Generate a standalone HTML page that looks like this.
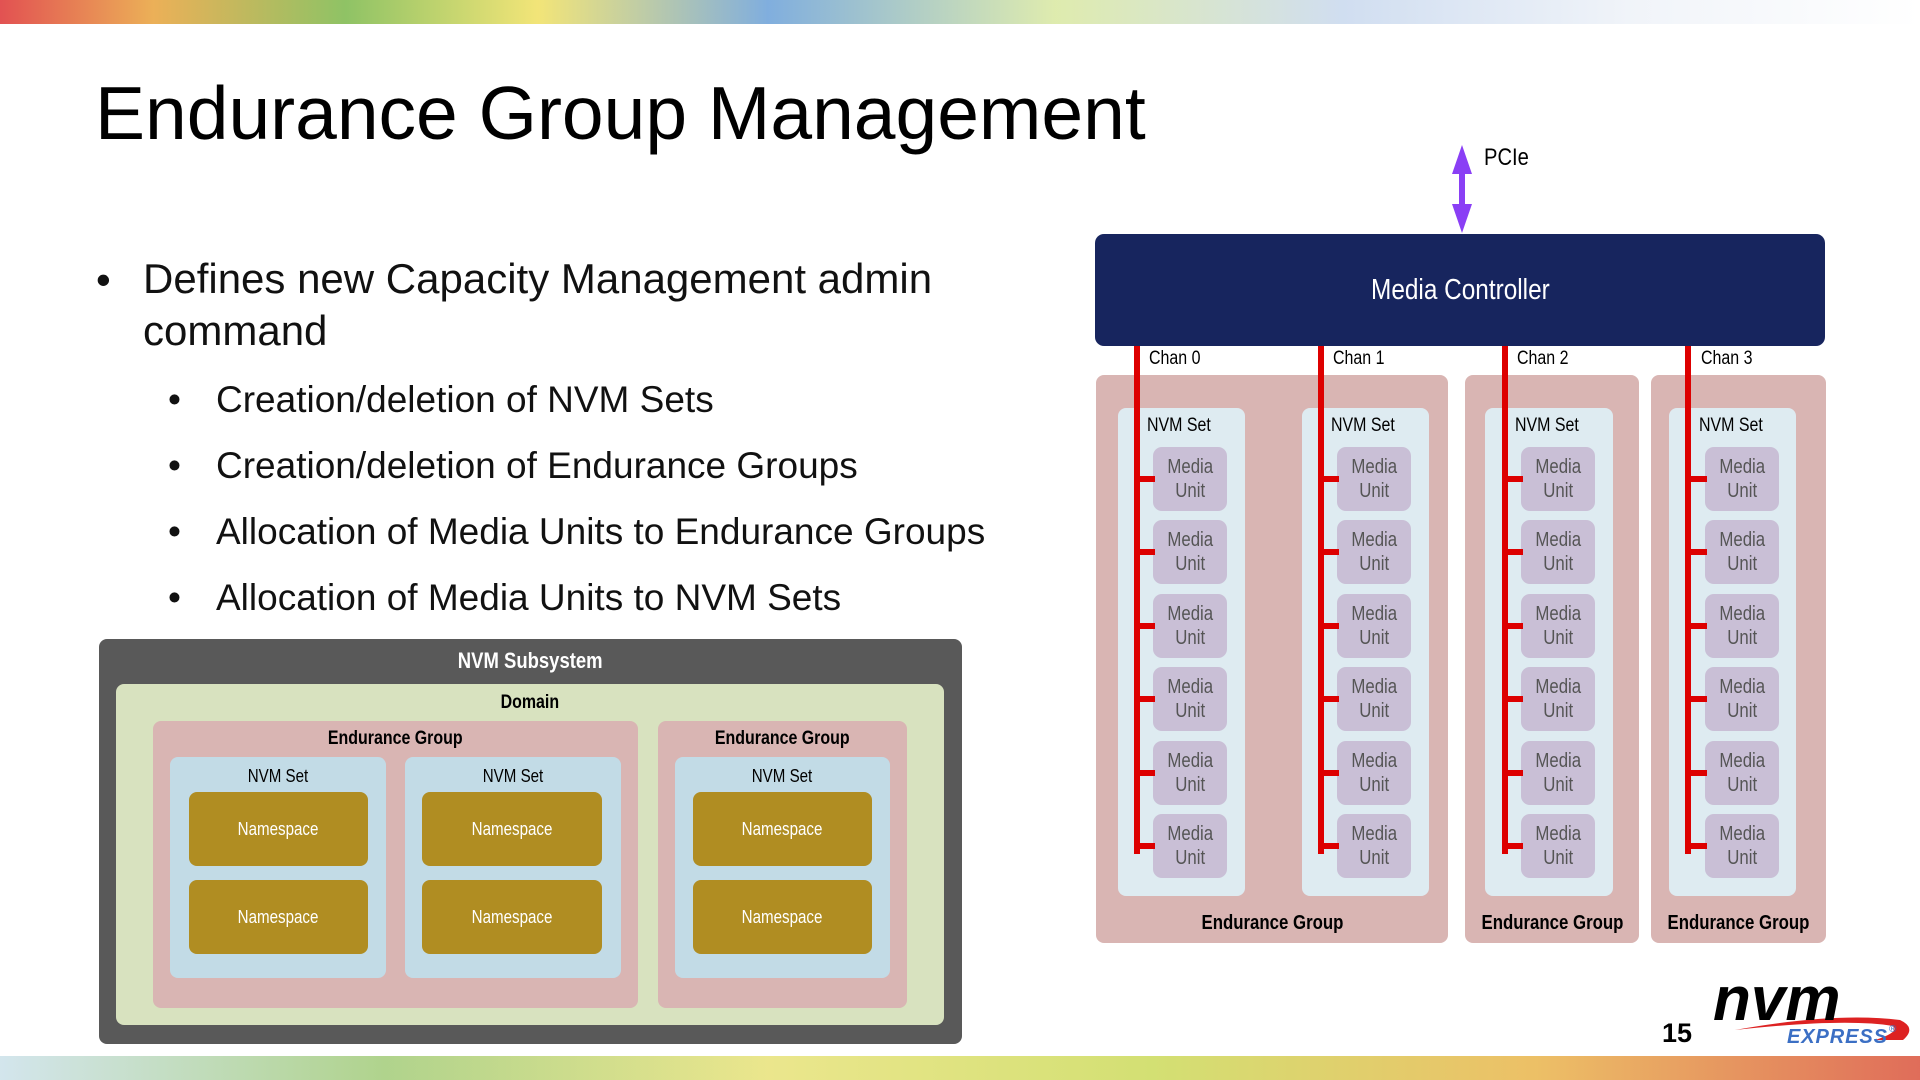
<!DOCTYPE html>
<html><head><meta charset="utf-8"><style>
*{margin:0;padding:0;box-sizing:border-box}
body{width:1920px;height:1080px;position:relative;background:#fff;overflow:hidden;font-family:"Liberation Sans",Arial,sans-serif}
.a{position:absolute}
.n span{display:inline-block;transform:scaleX(.84);white-space:nowrap}
.n.l span{transform-origin:left center}
.c{display:flex;align-items:center;justify-content:center;text-align:center}
.eg{background:#d9b5b3;border-radius:8px}
.set{background:#deebf1;border-radius:8px}
.mu{background:#c9bfd6;border-radius:9px;width:74px;height:64px;color:#555;font-size:20px;line-height:24px}
.ch{background:#dd0000;width:6px}
.br{background:#dd0000;height:6px;width:20px}
.ns{background:#b08d22;border-radius:8px;color:#fff;font-size:18px}
.lset{background:#c2dbe6;border-radius:8px}
</style></head><body>
<div class="a" style="left:0;top:0;width:1920px;height:24px;background:linear-gradient(90deg,#d33 0%,#e8a23a 8%,#7bb84a 18%,#f0e060 28%,#6aa0d8 40%,#d9e8a0 55%,#c8d8ee 70%,#eef2f8 85%,#fff 100%);opacity:.85"></div>
<div class="a" style="left:0;top:1056px;width:1920px;height:24px;background:linear-gradient(90deg,#c8dfe8 0%,#9cc870 20%,#e6e070 40%,#c8d850 60%,#e8b040 80%,#d84830 100%);opacity:.8"></div>

<div class="a" style="left:95px;top:70px;font-size:75px;color:#000">Endurance Group Management</div>
<div class="a" style="left:96px;top:254px;font-size:42px;line-height:52px;color:#111">•</div>
<div class="a" style="left:143px;top:253px;font-size:42px;line-height:52px;color:#111">Defines new Capacity Management admin<br>command</div>
<div class="a" style="left:168px;top:367px;font-size:37px;line-height:66px;color:#111">•<br>•<br>•<br>•</div>
<div class="a" style="left:216px;top:367px;font-size:37px;line-height:66px;color:#111">Creation/deletion of NVM Sets<br>Creation/deletion of Endurance Groups<br>Allocation of Media Units to Endurance Groups<br>Allocation of Media Units to NVM Sets</div>

<div class="a" style="left:99px;top:639px;width:863px;height:405px;background:#595959;border-radius:8px"></div>
<div class="a n c" style="left:99px;top:645px;width:863px;height:32px;color:#fff;font-weight:bold;font-size:22px"><span>NVM Subsystem</span></div>
<div class="a" style="left:116px;top:684px;width:828px;height:341px;background:#d8e2bf;border-radius:8px"></div>
<div class="a n c" style="left:116px;top:690px;width:828px;height:26px;font-weight:bold;font-size:19px"><span>Domain</span></div>
<div class="a eg" style="left:153px;top:721px;width:485px;height:287px"></div>
<div class="a eg" style="left:658px;top:721px;width:249px;height:287px"></div>
<div class="a n c" style="left:153px;top:726px;width:485px;height:26px;font-weight:bold;font-size:19px"><span>Endurance Group</span></div>
<div class="a n c" style="left:658px;top:726px;width:249px;height:26px;font-weight:bold;font-size:19px"><span>Endurance Group</span></div>
<div class="a lset" style="left:170px;top:757px;width:216px;height:221px"></div>
<div class="a lset" style="left:405px;top:757px;width:216px;height:221px"></div>
<div class="a lset" style="left:675px;top:757px;width:215px;height:221px"></div>
<div class="a n c" style="left:170px;top:763px;width:216px;height:26px;font-size:18px"><span>NVM Set</span></div>
<div class="a n c" style="left:405px;top:763px;width:216px;height:26px;font-size:18px"><span>NVM Set</span></div>
<div class="a n c" style="left:675px;top:763px;width:215px;height:26px;font-size:18px"><span>NVM Set</span></div>
<div class="a ns c n" style="left:189px;top:792px;width:179px;height:74px"><span>Namespace</span></div>
<div class="a ns c n" style="left:189px;top:880px;width:179px;height:74px"><span>Namespace</span></div>
<div class="a ns c n" style="left:422px;top:792px;width:180px;height:74px"><span>Namespace</span></div>
<div class="a ns c n" style="left:422px;top:880px;width:180px;height:74px"><span>Namespace</span></div>
<div class="a ns c n" style="left:693px;top:792px;width:179px;height:74px"><span>Namespace</span></div>
<div class="a ns c n" style="left:693px;top:880px;width:179px;height:74px"><span>Namespace</span></div>

<svg class="a" style="left:1440px;top:140px" width="44" height="96"><polygon points="22,5 12,34 32,34" fill="#8a3ff5"/><rect x="19" y="30" width="6" height="40" fill="#8a3ff5"/><polygon points="22,93 12,64 32,64" fill="#8a3ff5"/></svg>
<div class="a n l" style="left:1484px;top:144px;font-size:24px"><span>PCIe</span></div>
<div class="a n c" style="left:1095px;top:234px;width:730px;height:112px;background:#17255e;border-radius:9px;color:#fff;font-size:29px"><span>Media Controller</span></div>

<div class="a eg" style="left:1096px;top:375px;width:352px;height:568px"></div>
<div class="a eg" style="left:1465px;top:375px;width:174px;height:568px"></div>
<div class="a eg" style="left:1651px;top:375px;width:175px;height:568px"></div>
<div class="a n c" style="left:1096px;top:909px;width:352px;height:28px;font-weight:bold;font-size:20px"><span>Endurance Group</span></div>
<div class="a n c" style="left:1465px;top:909px;width:174px;height:28px;font-weight:bold;font-size:20px"><span>Endurance Group</span></div>
<div class="a n c" style="left:1651px;top:909px;width:175px;height:28px;font-weight:bold;font-size:20px"><span>Endurance Group</span></div>

<div class="a set" style="left:1118px;top:408px;width:127px;height:488px"></div>
<div class="a set" style="left:1302px;top:408px;width:127px;height:488px"></div>
<div class="a set" style="left:1485px;top:408px;width:128px;height:488px"></div>
<div class="a set" style="left:1669px;top:408px;width:127px;height:488px"></div>
<div class="a n l" style="left:1147px;top:415px;font-size:19px"><span>NVM Set</span></div>
<div class="a n l" style="left:1331px;top:415px;font-size:19px"><span>NVM Set</span></div>
<div class="a n l" style="left:1515px;top:415px;font-size:19px"><span>NVM Set</span></div>
<div class="a n l" style="left:1699px;top:415px;font-size:19px"><span>NVM Set</span></div>
<div class="a n l" style="left:1149px;top:348px;font-size:19px"><span>Chan 0</span></div>
<div class="a n l" style="left:1333px;top:348px;font-size:19px"><span>Chan 1</span></div>
<div class="a n l" style="left:1517px;top:348px;font-size:19px"><span>Chan 2</span></div>
<div class="a n l" style="left:1701px;top:348px;font-size:19px"><span>Chan 3</span></div>

<div class="a ch" style="left:1134px;top:346px;height:508px"></div>
<div class="a ch" style="left:1318px;top:346px;height:508px"></div>
<div class="a ch" style="left:1502px;top:346px;height:508px"></div>
<div class="a ch" style="left:1685px;top:346px;height:508px"></div>

<div id="mus"></div>
<script>
var xs=[1153,1337,1521,1705],cx=[1134,1318,1502,1685],ys=[447,520,594,667,741,814],h='';
for(var i=0;i<4;i++)for(var j=0;j<6;j++){
h+='<div class="a mu c n" style="left:'+xs[i]+'px;top:'+ys[j]+'px"><span>Media<br>Unit</span></div>';
h+='<div class="a br" style="left:'+cx[i]+'px;top:'+(ys[j]+29)+'px;width:'+(xs[i]-cx[i]+2)+'px"></div>';}
document.getElementById('mus').innerHTML=h;
</script>

<div class="a" style="left:1662px;top:1018px;font-size:27px;font-weight:bold">15</div>
<svg class="a" style="left:1705px;top:980px" width="215" height="70">
<path d="M30,50 Q130,32 195,40 Q212,48 198,60 L170,60 Q195,52 188,46 Q140,38 30,50Z" fill="#d22"/>
<text x="8" y="40" font-family="Liberation Sans" font-weight="bold" font-style="italic" font-size="62" fill="#000">nvm</text>
<text x="82" y="63" font-family="Liberation Sans" font-weight="bold" font-style="italic" font-size="20" fill="#3b6fc4" textLength="100">EXPRESS</text>
<text x="184" y="52" font-family="Liberation Sans" font-size="10" fill="#3b6fc4">®</text>
</svg>
</body></html>
